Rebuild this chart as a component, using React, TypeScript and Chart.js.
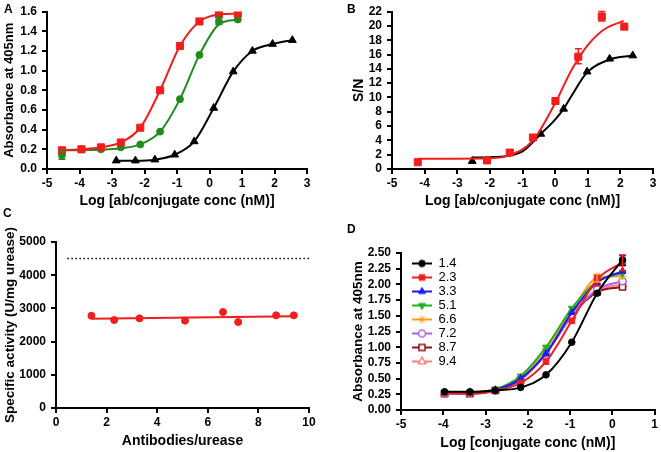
import React, { useEffect, useRef } from 'react';
import { Chart, registerables } from 'chart.js';
import { drawPoint } from 'chart.js/helpers';

Chart.register(...registerables);

// ---------- Panel A ----------
const aRedX = [-4.54, -3.94, -3.34, -2.73, -2.13, -1.52, -0.91, -0.31, 0.29, 0.87];
const aRedY = [0.19, 0.20, 0.22, 0.27, 0.42, 0.80, 1.25, 1.50, 1.57, 1.58];
const aGreenX = [-4.54, -3.94, -3.34, -2.73, -2.13, -1.52, -0.91, -0.31, 0.29, 0.87];
const aGreenY = [0.14, 0.20, 0.20, 0.22, 0.25, 0.38, 0.71, 1.16, 1.50, 1.52];
const aGreenFitY = [0.19, 0.19, 0.195, 0.21, 0.25, 0.38, 0.71, 1.16, 1.47, 1.52];
const aGreenErr = [[-4.54, 0.10, 0.18], [0.29, 1.47, 1.55]];
const aBlackX = [-2.87, -2.28, -1.68, -1.07, -0.47, 0.13, 0.73, 1.32, 1.94, 2.55];
const aBlackY = [0.085, 0.085, 0.095, 0.145, 0.28, 0.62, 0.99, 1.20, 1.27, 1.31];

// ---------- Panel B ----------
const bRedX = [-4.21, -2.09, -1.39, -0.68, 0.01, 0.71, 1.43, 2.12];
const bRedY = [0.95, 1.2, 2.3, 4.4, 9.5, 15.7, 21.3, 19.9];
const bRedErr = [[0.71, 14.7, 16.8], [1.43, 20.7, 22.0]];
const bRedFitX = [-4.21, -3, -2, -1.4, -0.68, 0, 0.5, 1, 1.5, 2.1];
const bRedFitY = [1.45, 1.45, 1.5, 1.9, 4.0, 9.2, 13.8, 17.3, 19.5, 20.7];
const bBlackX = [-2.54, -0.44, 0.26, 0.98, 1.67, 2.38];
const bBlackY = [1.1, 4.9, 8.4, 13.6, 15.4, 15.85];
const bBlackFitX = [-2.54, -2, -1.5, -1, -0.44, 0, 0.26, 0.5, 0.98, 1.67, 2.38];
const bBlackFitY = [1.6, 1.65, 1.8, 2.45, 4.9, 6.9, 8.4, 10.2, 13.5, 15.3, 15.85];

// ---------- Panel C ----------
const cX = [1.4, 2.3, 3.3, 5.1, 6.6, 7.2, 8.7, 9.4];
const cY = [2780, 2650, 2700, 2630, 2890, 2590, 2790, 2790];
const cFitX = [1.4, 9.4];
const cFitY = [2690, 2760];
const cRefX = [0.45, 10];
const cRefY = [4500, 4500];

// ---------- Panel D ----------
const dX = [-3.97, -3.37, -2.77, -2.17, -1.57, -0.96, -0.36, 0.24];
const dLabels = ['1.4', '2.3', '3.3', '5.1', '6.6', '7.2', '8.7', '9.4'];
const d14 = [0.29, 0.29, 0.31, 0.36, 0.56, 1.08, 1.86, 2.39];
const d23 = [0.27, 0.27, 0.31, 0.43, 0.77, 1.42, 2.08, 2.35];
const d33 = [0.28, 0.28, 0.32, 0.50, 0.90, 1.55, 2.03, 2.21];
const d51 = [0.28, 0.28, 0.33, 0.54, 1.00, 1.62, 2.05, 2.18];
const d66 = [0.27, 0.28, 0.33, 0.52, 0.98, 1.58, 2.10, 2.13];
const d72 = [0.26, 0.27, 0.31, 0.49, 0.90, 1.50, 1.92, 2.05];
const d87 = [0.26, 0.26, 0.31, 0.48, 0.90, 1.50, 1.88, 1.96];
const d94 = [0.26, 0.26, 0.31, 0.50, 0.92, 1.52, 1.90, 2.00];
const dBlackErr = [[0.24, 2.30, 2.46]];
const dRedErr = [[-0.36, 1.98, 2.14], [0.24, 2.22, 2.47]];
const dOrangeErr = [[-0.36, 2.04, 2.16]];

const FONT = "'Liberation Sans', Arial, Helvetica, sans-serif";
Chart.defaults.font.family = FONT;
Chart.defaults.color = '#000';

const pts = (xs: number[], ys: number[]) => xs.map((x, i) => ({ x, y: ys[i] }));

const gridOpts = { display: true, drawOnChartArea: false, drawTicks: true, tickLength: 5, color: '#000', lineWidth: 2 };
const borderOpts = { display: true, color: '#000', width: 2 };
const tickFont = { size: 12, weight: 'bold', lineHeight: 1.1 };

function axis(opts: any) {
  const { min, max, step, title, size, titleSize, titlePad, horizontal, fmt } = opts;
  return {
    type: 'linear',
    min, max,
    afterFit: (s: any) => { if (horizontal) s.height = size; else s.width = size; },
    ticks: {
      stepSize: step, autoSkip: false, maxRotation: 0, minRotation: 0,
      padding: horizontal ? 3 : 5, font: tickFont, color: '#000',
      callback: (v: any) => fmt(Number(v)),
    },
    grid: gridOpts,
    border: borderOpts,
    title: {
      display: true, text: title, color: '#000',
      font: { size: titleSize, weight: 'bold', lineHeight: 1.2 },
      padding: horizontal ? { top: 0, bottom: titlePad } : { top: titlePad, bottom: 0 },
    },
  };
}

const errorBarPlugin = {
  id: 'errorBars',
  afterDatasetsDraw(chart: any) {
    const ctx = chart.ctx;
    const xs = chart.scales.x, ys = chart.scales.y;
    chart.data.datasets.forEach((ds: any) => {
      const eb = ds.errorBars;
      if (!eb) return;
      ctx.save();
      ctx.strokeStyle = ds.pointBorderColor || ds.borderColor;
      ctx.lineWidth = 1.5;
      eb.forEach((e: number[]) => {
        const px = xs.getPixelForValue(e[0]);
        const p1 = ys.getPixelForValue(e[1]);
        const p2 = ys.getPixelForValue(e[2]);
        ctx.beginPath();
        ctx.moveTo(px, p1); ctx.lineTo(px, p2);
        ctx.moveTo(px - 3.5, p1); ctx.lineTo(px + 3.5, p1);
        ctx.moveTo(px - 3.5, p2); ctx.lineTo(px + 3.5, p2);
        ctx.stroke();
      });
      ctx.restore();
    });
  },
};

const legendPlacer = {
  id: 'legendPlacer',
  afterLayout(chart: any, _args: any, opts: any) {
    const lg = chart.legend;
    if (!lg || !opts || opts.left == null) return;
    lg.left = opts.left;
    lg.top = opts.top;
    lg.right = opts.left + 90;
    lg.bottom = opts.top + 140;
    lg.width = 90;
    lg.height = 140;
  },
};

function curve(xs: number[], ys: number[], color: string) {
  return {
    data: pts(xs, ys), showLine: true, borderColor: color, borderWidth: 2,
    pointRadius: 0, cubicInterpolationMode: 'monotone', fill: false,
  };
}
function marks(xs: number[], ys: number[], color: string, style: string, radius: number, extra: any = {}) {
  return {
    data: pts(xs, ys), showLine: false, pointStyle: style, pointRadius: radius,
    pointBackgroundColor: color, pointBorderColor: color, borderColor: color, pointBorderWidth: 1,
    ...extra,
  };
}

const baseOpts = (padding: any) => ({
  responsive: false, animation: false, devicePixelRatio: 1, events: [],
  layout: { padding },
  plugins: { legend: { display: false }, tooltip: { enabled: false }, title: { display: false } },
});

const fmt0 = (v: number) => String(Math.round(v));
const fmt1 = (v: number) => v.toFixed(1);
const fmt2 = (v: number) => v.toFixed(2);

const RED = '#f21d1d';
const GREEN = '#1f8c1f';

function configA(): any {
  return {
    type: 'scatter',
    data: {
      datasets: [
        curve(aRedX, aRedY, RED),
        marks(aRedX, aRedY, RED, 'rect', 5),
        curve(aGreenX, aGreenFitY, GREEN),
        marks(aGreenX, aGreenY, GREEN, 'circle', 3.5, { errorBars: aGreenErr }),
        curve(aBlackX, aBlackY, '#000'),
        marks(aBlackX, aBlackY, '#000', 'triangle', 4.5),
      ],
    },
    options: {
      ...baseOpts({ left: 0, top: 10, right: 23, bottom: 0 }),
      scales: {
        x: axis({ min: -5, max: 3, step: 1, title: 'Log [ab/conjugate conc (nM)]', size: 57, titleSize: 14, titlePad: 16, horizontal: true, fmt: fmt0 }),
        y: axis({ min: 0, max: 1.6, step: 0.2, title: 'Absorbance at 405nm', size: 47, titleSize: 13, titlePad: 2, horizontal: false, fmt: fmt1 }),
      },
    },
    plugins: [errorBarPlugin],
  };
}

function configB(): any {
  return {
    type: 'scatter',
    data: {
      datasets: [
        curve(bRedFitX, bRedFitY, RED),
        marks(bRedX, bRedY, RED, 'rect', 5, { errorBars: bRedErr }),
        curve(bBlackFitX, bBlackFitY, '#000'),
        marks(bBlackX, bBlackY, '#000', 'triangle', 4.5),
      ],
    },
    options: {
      ...baseOpts({ left: 0, top: 7, right: 8, bottom: 0 }),
      scales: {
        x: axis({ min: -5, max: 3, step: 1, title: 'Log [ab/conjugate conc (nM)]', size: 57, titleSize: 14, titlePad: 16, horizontal: true, fmt: fmt0 }),
        y: axis({ min: 0, max: 22, step: 2, title: 'S/N', size: 62, titleSize: 14, titlePad: 20.5, horizontal: false, fmt: fmt0 }),
      },
    },
    plugins: [errorBarPlugin],
  };
}

function configC(): any {
  return {
    type: 'scatter',
    data: {
      datasets: [
        {
          data: pts(cRefX, cRefY), showLine: true, borderColor: '#000', borderWidth: 1.5,
          borderDash: [1.5, 2.5], pointRadius: 0,
        },
        curve(cFitX, cFitY, RED),
        marks(cX, cY, RED, 'circle', 3.5),
      ],
    },
    options: {
      ...baseOpts({ left: 0, top: 28, right: 21, bottom: 0 }),
      scales: {
        x: axis({ min: 0, max: 10, step: 2, title: 'Antibodies/urease', size: 44, titleSize: 14, titlePad: 2.6, horizontal: true, fmt: fmt0 }),
        y: axis({ min: 0, max: 5000, step: 1000, title: 'Specific activity (U/mg urease)', size: 56, titleSize: 13.5, titlePad: 2, horizontal: false, fmt: fmt0 }),
      },
    },
  };
}

const dSeries = [
  { label: dLabels[0], ys: d14, color: '#000000', style: 'circle', r: 3.3, open: false, rot: 0, err: dBlackErr },
  { label: dLabels[1], ys: d23, color: '#f01e1e', style: 'rect', r: 4, open: false, rot: 0, err: dRedErr },
  { label: dLabels[2], ys: d33, color: '#1c1cf0', style: 'triangle', r: 4, open: false, rot: 0, err: null },
  { label: dLabels[3], ys: d51, color: '#22b022', style: 'triangle', r: 4, open: false, rot: 180, err: null },
  { label: dLabels[4], ys: d66, color: '#ff9a1a', style: 'star', r: 4, open: false, rot: 0, err: dOrangeErr },
  { label: dLabels[5], ys: d72, color: '#b060e8', style: 'circle', r: 3.5, open: true, rot: 0, err: null },
  { label: dLabels[6], ys: d87, color: '#8c1414', style: 'rect', r: 4.3, open: true, rot: 0, err: null },
  { label: dLabels[7], ys: d94, color: '#ff8080', style: 'triangle', r: 4.3, open: true, rot: 0, err: null },
];

function makeIcon(s: any) {
  const c = document.createElement('canvas');
  c.width = 20; c.height = 12;
  const ctx = c.getContext('2d')!;
  ctx.strokeStyle = s.color;
  ctx.lineWidth = 2;
  ctx.beginPath(); ctx.moveTo(0, 6); ctx.lineTo(20, 6); ctx.stroke();
  ctx.fillStyle = s.open ? '#fff' : s.color;
  ctx.strokeStyle = s.color;
  ctx.lineWidth = s.open ? 1.5 : 1;
  drawPoint(ctx, { pointStyle: s.style, rotation: s.rot, radius: s.r, borderWidth: ctx.lineWidth } as any, 10, 6);
  return c;
}

function configD(): any {
  const icons = dSeries.map(makeIcon);
  return {
    type: 'scatter',
    data: {
      datasets: dSeries.map((s) => ({
        label: s.label,
        data: pts(dX, s.ys), showLine: true, borderColor: s.color, borderWidth: 2,
        cubicInterpolationMode: 'monotone',
        pointStyle: s.style, pointRadius: s.r, pointRotation: s.rot,
        pointBackgroundColor: s.open ? '#fff' : s.color, pointBorderColor: s.color,
        pointBorderWidth: s.open ? 1.5 : 1,
        errorBars: s.err || undefined,
      })),
    },
    options: {
      ...baseOpts({ left: 0, top: 27, right: 6, bottom: 0 }),
      plugins: {
        tooltip: { enabled: false },
        title: { display: false },
        legendPlacer: { left: 81, top: 30 },
        legend: {
          display: true, position: 'chartArea', align: 'start',
          labels: {
            usePointStyle: true, pointStyleWidth: 20, padding: 1, color: '#000',
            font: { size: 13, weight: 'normal' },
            generateLabels: (chart: any) => chart.data.datasets.map((ds: any, i: number) => ({
              text: ds.label, pointStyle: icons[i], datasetIndex: i, hidden: false,
              lineWidth: 0, fillStyle: 'rgba(0,0,0,0)', strokeStyle: 'rgba(0,0,0,0)', fontColor: '#000',
            })),
          },
        },
      },
      scales: {
        x: axis({ min: -5, max: 1, step: 1, title: 'Log [conjugate conc (nM)]', size: 42, titleSize: 14, titlePad: 0.6, horizontal: true, fmt: fmt0 }),
        y: axis({ min: 0, max: 2.5, step: 0.25, title: 'Absorbance at 405nm', size: 71, titleSize: 13.5, titlePad: 20, horizontal: false, fmt: fmt2 }),
      },
    },
    plugins: [errorBarPlugin, legendPlacer],
  };
}

const panels = [
  { key: 'A', left: 0, top: 0, w: 330, h: 226, make: configA },
  { key: 'B', left: 330, top: 0, w: 331, h: 226, make: configB },
  { key: 'C', left: 0, top: 214, w: 330, h: 238, make: configC },
  { key: 'D', left: 330, top: 226, w: 331, h: 226, make: configD },
];

const letters = [
  { t: 'A', left: 4, top: 2.5 },
  { t: 'B', left: 347, top: 2.5 },
  { t: 'C', left: 3, top: 206.5 },
  { t: 'D', left: 347, top: 222.5 },
];

export default function App() {
  const refs = useRef<(HTMLCanvasElement | null)[]>([]);
  useEffect(() => {
    const charts = panels.map((p, i) => new Chart(refs.current[i] as HTMLCanvasElement, p.make()));
    return () => charts.forEach((c) => c.destroy());
  }, []);
  return (
    <div style={{ position: 'absolute', left: 0, top: 0, width: 661, height: 452, background: '#fff', overflow: 'hidden' }}>
      {panels.map((p, i) => (
        <canvas
          key={p.key}
          ref={(el) => { refs.current[i] = el; }}
          width={p.w}
          height={p.h}
          style={{ position: 'absolute', left: p.left, top: p.top, width: p.w, height: p.h }}
        />
      ))}
      {letters.map((l) => (
        <div
          key={l.t}
          style={{ position: 'absolute', left: l.left, top: l.top, fontFamily: FONT, fontWeight: 'bold', fontSize: 12, lineHeight: '12px', color: '#000' }}
        >
          {l.t}
        </div>
      ))}
    </div>
  );
}
